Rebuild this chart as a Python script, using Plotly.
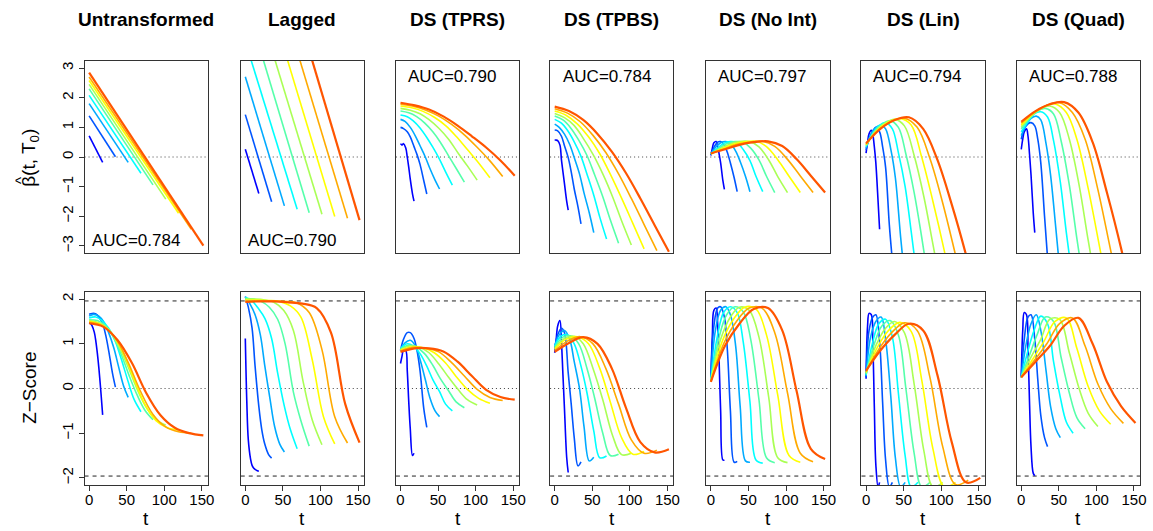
import plotly.graph_objects as go

# ---------------- data ----------------
T0 = [18, 35, 52, 69, 85, 102, 119, 136, 152]
t_grid = [
    [0, 2, 4, 7, 9, 11, 13, 16, 18],
    [0, 4, 9, 13, 18, 22, 26, 31, 35],
    [0, 6, 13, 20, 26, 33, 39, 46, 52],
    [0, 9, 17, 26, 35, 43, 52, 60, 69],
    [0, 11, 21, 32, 43, 53, 64, 74, 85],
    [0, 13, 26, 38, 51, 64, 77, 89, 102],
    [0, 15, 30, 45, 60, 74, 89, 104, 119],
    [0, 17, 34, 51, 68, 85, 102, 119, 136],
    [0, 19, 38, 57, 76, 95, 114, 133, 152],
]
TITLES = ["Untransformed", "Lagged", "DS (TPRS)", "DS (TPBS)", "DS (No Int)", "DS (Lin)", "DS (Quad)"]
AUC = ["0.784", "0.790", "0.790", "0.784", "0.797", "0.794", "0.788"]
X_TICKS = [0, 50, 100, 150]
BETA_TICKS = [-3, -2, -1, 0, 1, 2, 3]
Z_TICKS = [-2, -1, 0, 1, 2]
COLORS = ["#0000FF", "#0055FF", "#00AAFF", "#00FFFF", "#55FFAA", "#AAFF55", "#FFFF00", "#FFAA00", "#FF5500"]

# straight-line panels: value at t=0 and at t=T0
untrans_start = [0.71, 1.39, 1.80, 2.08, 2.30, 2.45, 2.58, 2.70, 2.85]
untrans_end = [-0.18, 0.01, -0.18, -0.55, -0.94, -1.42, -1.90, -2.44, -2.99]
lagged_start = [0.26, 1.43, 2.71, 3.90, 5.30, 6.56, 7.99, 9.38, 10.87]
lagged_end = [-1.23, -1.51, -1.65, -1.76, -1.88, -1.93, -2.01, -2.07, -2.13]

tprs_beta = [
    [0.45, 0.40, 0.45, 0.30, 0.00, -0.35, -0.75, -1.25, -1.49],
    [1.00, 0.96, 0.85, 0.68, 0.35, 0.08, -0.25, -0.80, -1.25],
    [1.27, 1.20, 1.00, 0.70, 0.38, 0.00, -0.38, -0.78, -1.08],
    [1.42, 1.36, 1.22, 0.98, 0.66, 0.33, -0.08, -0.50, -0.95],
    [1.55, 1.49, 1.37, 1.15, 0.85, 0.50, 0.04, -0.38, -0.85],
    [1.64, 1.58, 1.46, 1.26, 0.97, 0.60, 0.12, -0.30, -0.78],
    [1.72, 1.66, 1.54, 1.34, 1.06, 0.70, 0.25, -0.20, -0.70],
    [1.78, 1.71, 1.58, 1.38, 1.10, 0.75, 0.33, -0.13, -0.66],
    [1.83, 1.74, 1.60, 1.37, 1.06, 0.70, 0.32, -0.12, -0.63],
]
tpbs_beta = [
    [0.57, 0.57, 0.55, 0.40, -0.10, -0.50, -0.90, -1.50, -1.79],
    [0.91, 0.88, 0.70, 0.38, -0.02, -0.50, -1.08, -1.68, -2.26],
    [1.11, 1.00, 0.77, 0.42, -0.02, -0.57, -1.21, -1.88, -2.55],
    [1.27, 1.14, 0.90, 0.51, 0.02, -0.58, -1.29, -2.03, -2.77],
    [1.38, 1.25, 0.99, 0.57, 0.05, -0.59, -1.34, -2.12, -2.91],
    [1.47, 1.33, 1.06, 0.63, 0.09, -0.57, -1.34, -2.15, -2.97],
    [1.55, 1.41, 1.12, 0.68, 0.11, -0.58, -1.39, -2.24, -3.10],
    [1.63, 1.48, 1.19, 0.73, 0.15, -0.57, -1.40, -2.28, -3.16],
    [1.70, 1.55, 1.25, 0.78, 0.18, -0.55, -1.40, -2.30, -3.20],
]
noint_beta = [
    [0.05, 0.30, 0.48, 0.52, 0.35, 0.10, -0.20, -0.80, -1.09],
    [0.08, 0.32, 0.50, 0.52, 0.40, 0.15, -0.20, -0.70, -1.17],
    [0.10, 0.32, 0.48, 0.52, 0.45, 0.20, -0.15, -0.65, -1.17],
    [0.10, 0.30, 0.46, 0.52, 0.48, 0.25, -0.12, -0.65, -1.17],
    [0.10, 0.30, 0.45, 0.52, 0.50, 0.30, -0.10, -0.65, -1.20],
    [0.10, 0.29, 0.44, 0.52, 0.52, 0.34, -0.10, -0.66, -1.20],
    [0.11, 0.28, 0.43, 0.51, 0.53, 0.35, -0.09, -0.65, -1.20],
    [0.12, 0.27, 0.42, 0.50, 0.53, 0.36, -0.08, -0.64, -1.20],
    [0.12, 0.26, 0.41, 0.50, 0.53, 0.37, -0.07, -0.63, -1.20],
]
lin_beta = [
    [0.13, 0.50, 0.78, 0.90, 0.75, 0.35, -0.20, -1.50, -2.44],
    [0.24, 0.60, 0.88, 1.00, 0.85, 0.35, -0.35, -2.30, -3.50],
    [0.30, 0.75, 1.00, 1.08, 0.95, 0.25, -0.70, -2.70, -4.20],
    [0.35, 0.80, 1.05, 1.16, 0.95, 0.15, -1.00, -2.50, -4.30],
    [0.38, 0.85, 1.10, 1.22, 1.00, 0.10, -1.20, -2.70, -4.50],
    [0.40, 0.88, 1.15, 1.27, 1.05, 0.05, -1.35, -2.95, -4.70],
    [0.42, 0.90, 1.18, 1.30, 1.08, 0.00, -1.50, -3.15, -5.00],
    [0.44, 0.92, 1.20, 1.31, 1.00, -0.05, -1.55, -3.30, -5.10],
    [0.46, 0.95, 1.25, 1.34, 0.95, -0.10, -1.60, -3.30, -5.20],
]
quad_beta = [
    [0.26, 0.60, 0.85, 0.95, 0.70, 0.10, -0.60, -1.90, -2.55],
    [0.60, 0.95, 1.12, 1.16, 1.05, 0.60, -0.20, -2.00, -3.40],
    [0.72, 1.05, 1.30, 1.38, 1.25, 0.45, -0.60, -2.40, -4.00],
    [0.85, 1.20, 1.45, 1.53, 1.35, 0.55, -0.85, -2.55, -4.30],
    [0.95, 1.30, 1.55, 1.64, 1.45, 0.55, -0.95, -2.75, -4.60],
    [1.02, 1.38, 1.62, 1.72, 1.50, 0.60, -0.95, -2.80, -4.70],
    [1.08, 1.45, 1.70, 1.79, 1.50, 0.60, -1.05, -3.00, -5.00],
    [1.14, 1.50, 1.75, 1.83, 1.50, 0.60, -1.10, -3.15, -5.20],
    [1.19, 1.55, 1.78, 1.85, 1.50, 0.50, -1.20, -3.10, -5.30],
]

untrans_z = [
    [1.47, 1.45, 1.40, 1.25, 1.05, 0.78, 0.45, -0.15, -0.59],
    [1.66, 1.68, 1.67, 1.60, 1.45, 1.20, 0.85, 0.35, 0.03],
    [1.62, 1.66, 1.62, 1.48, 1.25, 0.90, 0.50, 0.05, -0.20],
    [1.58, 1.60, 1.52, 1.35, 1.05, 0.65, 0.15, -0.25, -0.52],
    [1.54, 1.52, 1.42, 1.16, 0.75, 0.30, -0.15, -0.48, -0.70],
    [1.52, 1.47, 1.32, 1.00, 0.52, -0.02, -0.45, -0.70, -0.82],
    [1.50, 1.44, 1.24, 0.82, 0.20, -0.35, -0.72, -0.88, -0.93],
    [1.48, 1.41, 1.15, 0.62, -0.05, -0.58, -0.86, -0.97, -1.00],
    [1.46, 1.38, 1.08, 0.57, -0.10, -0.60, -0.88, -1.00, -1.05],
]
lagged_z = [
    [1.12, -0.30, -1.15, -1.58, -1.72, -1.78, -1.81, -1.84, -1.85],
    [2.06, 1.82, 1.35, 0.50, -0.40, -0.93, -1.25, -1.48, -1.56],
    [2.05, 1.90, 1.65, 1.20, 0.50, -0.25, -0.85, -1.25, -1.42],
    [2.04, 1.96, 1.80, 1.57, 1.12, 0.35, -0.40, -0.92, -1.35],
    [2.02, 2.00, 1.95, 1.82, 1.55, 1.00, -0.08, -0.72, -1.29],
    [2.00, 2.00, 1.98, 1.93, 1.75, 1.30, 0.15, -0.70, -1.26],
    [1.98, 1.98, 1.97, 1.95, 1.85, 1.60, 0.65, -0.63, -1.24],
    [1.95, 1.96, 1.96, 1.95, 1.92, 1.70, 0.87, -0.63, -1.22],
    [1.94, 1.95, 1.95, 1.93, 1.90, 1.80, 1.25, -0.35, -1.21],
]
tprs_z = [
    [0.56, 0.72, 0.86, 0.85, 0.40, -0.30, -0.90, -1.50, -1.45],
    [0.85, 1.10, 1.25, 1.25, 1.12, 0.85, 0.40, -0.45, -0.87],
    [0.85, 1.02, 1.08, 0.95, 0.65, 0.20, -0.20, -0.50, -0.63],
    [0.90, 1.00, 0.95, 0.78, 0.50, 0.20, -0.07, -0.35, -0.50],
    [0.88, 0.97, 0.93, 0.78, 0.52, 0.22, -0.05, -0.30, -0.43],
    [0.87, 0.95, 0.92, 0.80, 0.55, 0.25, -0.03, -0.25, -0.37],
    [0.86, 0.93, 0.91, 0.80, 0.57, 0.27, -0.02, -0.22, -0.33],
    [0.84, 0.92, 0.90, 0.82, 0.58, 0.28, -0.02, -0.20, -0.27],
    [0.82, 0.90, 0.90, 0.83, 0.60, 0.28, -0.03, -0.19, -0.25],
]
tpbs_z = [
    [0.80, 1.10, 1.40, 1.52, 1.05, 0.30, -0.45, -1.55, -1.88],
    [0.90, 1.20, 1.35, 1.25, 0.35, -0.35, -1.10, -1.73, -1.64],
    [0.95, 1.20, 1.30, 1.10, 0.60, 0.00, -0.85, -1.62, -1.54],
    [0.95, 1.18, 1.20, 1.00, 0.50, -0.10, -0.95, -1.55, -1.51],
    [0.92, 1.15, 1.18, 1.00, 0.45, -0.20, -1.00, -1.50, -1.47],
    [0.90, 1.12, 1.17, 1.00, 0.45, -0.25, -1.05, -1.48, -1.45],
    [0.88, 1.10, 1.16, 1.00, 0.45, -0.30, -1.10, -1.47, -1.41],
    [0.85, 1.06, 1.16, 1.00, 0.45, -0.35, -1.15, -1.45, -1.38],
    [0.82, 1.02, 1.15, 1.00, 0.45, -0.44, -1.20, -1.43, -1.36],
]
noint_z = [
    [0.20, 1.20, 1.75, 1.80, 1.45, 0.60, -0.50, -1.60, -1.60],
    [0.22, 1.40, 1.80, 1.83, 1.60, 0.85, -0.50, -1.65, -1.63],
    [0.20, 1.30, 1.75, 1.83, 1.65, 0.95, -0.40, -1.62, -1.65],
    [0.20, 1.20, 1.70, 1.83, 1.70, 1.05, -0.30, -1.60, -1.67],
    [0.18, 1.15, 1.65, 1.83, 1.72, 1.10, -0.25, -1.55, -1.66],
    [0.17, 1.10, 1.60, 1.82, 1.75, 1.15, -0.20, -1.55, -1.66],
    [0.16, 1.05, 1.55, 1.82, 1.78, 1.20, -0.15, -1.50, -1.65],
    [0.15, 1.00, 1.50, 1.80, 1.80, 1.25, -0.10, -1.45, -1.64],
    [0.15, 0.96, 1.45, 1.78, 1.80, 1.30, -0.05, -1.35, -1.58],
]
lin_z = [
    [0.22, 1.40, 1.68, 1.65, 1.00, -0.40, -1.70, -2.20, -2.10],
    [0.25, 1.30, 1.60, 1.65, 1.05, -0.30, -1.60, -2.20, -2.10],
    [0.28, 1.15, 1.50, 1.60, 1.10, -0.20, -1.55, -2.20, -2.10],
    [0.30, 1.05, 1.45, 1.55, 1.15, -0.10, -1.50, -2.20, -2.10],
    [0.32, 1.00, 1.40, 1.52, 1.20, 0.00, -1.45, -2.20, -2.10],
    [0.34, 0.96, 1.35, 1.50, 1.25, 0.10, -1.40, -2.20, -2.10],
    [0.36, 0.92, 1.30, 1.48, 1.28, 0.20, -1.35, -2.20, -2.10],
    [0.38, 0.88, 1.25, 1.47, 1.30, 0.25, -1.30, -2.15, -2.05],
    [0.40, 0.85, 1.20, 1.45, 1.30, 0.30, -1.20, -2.10, -2.00],
]
quad_z = [
    [0.25, 1.30, 1.70, 1.65, 0.90, -0.30, -1.30, -1.90, -1.95],
    [0.25, 1.10, 1.60, 1.65, 1.10, 0.20, -0.60, -1.10, -1.30],
    [0.25, 0.95, 1.45, 1.65, 1.30, 0.40, -0.40, -0.90, -1.10],
    [0.25, 0.85, 1.30, 1.62, 1.45, 0.60, -0.20, -0.75, -1.00],
    [0.25, 0.75, 1.20, 1.60, 1.50, 0.70, -0.10, -0.65, -0.90],
    [0.25, 0.70, 1.10, 1.55, 1.55, 0.80, 0.00, -0.55, -0.85],
    [0.25, 0.65, 1.05, 1.50, 1.58, 0.90, 0.05, -0.50, -0.80],
    [0.25, 0.62, 1.00, 1.45, 1.58, 0.95, 0.10, -0.45, -0.78],
    [0.25, 0.60, 0.95, 1.40, 1.58, 1.00, 0.15, -0.40, -0.77],
]

TOP_CURVES = [None, None, tprs_beta, tpbs_beta, noint_beta, lin_beta, quad_beta]
BOT_CURVES = [untrans_z, lagged_z, tprs_z, tpbs_z, noint_z, lin_z, quad_z]

# ---------------- layout ----------------
W, H = 1153, 531
LEFTS = [85, 242, 398, 553, 710, 866, 1022]
PW = 124
ROWS = [(61, 253), (292, 485)]
FONT = "Liberation Sans, Arial, Helvetica, sans-serif"
XR = [-6.08, 158.08]
YR = [[-3.24, 3.24], [-2.16, 2.16]]

fig = go.Figure()
layout = dict(width=W, height=H, margin=dict(l=0, r=0, t=0, b=0),
              paper_bgcolor="white", plot_bgcolor="white", showlegend=False,
              font=dict(family=FONT, color="black"))
annotations = []
shapes = []


def px_dom_x(a, b):
    return [a / W, b / W]


def px_dom_y(top, bot):
    return [(H - bot) / H, (H - top) / H]


def py(v):
    return (H - v) / H


for r in range(2):
    for c in range(7):
        n = r * 7 + c + 1
        xa = "xaxis" if n == 1 else f"xaxis{n}"
        ya = "yaxis" if n == 1 else f"yaxis{n}"
        xr = "x" if n == 1 else f"x{n}"
        yr = "y" if n == 1 else f"y{n}"
        layout[xa] = dict(domain=px_dom_x(LEFTS[c], LEFTS[c] + PW), range=XR, anchor=yr,
                          showline=True, mirror=True, linecolor="#333", linewidth=1,
                          showgrid=False, zeroline=False, fixedrange=True,
                          tickvals=X_TICKS if r == 1 else [],
                          ticks="outside" if r == 1 else "", ticklen=5, tickcolor="#333",
                          tickfont=dict(size=15, family=FONT), ticklabelstandoff=-4,
                          showticklabels=(r == 1))
        is_left = (c == 0)
        layout[ya] = dict(domain=px_dom_y(*ROWS[r]), range=YR[r], anchor=xr,
                          showline=True, mirror=True, linecolor="#333", linewidth=1,
                          showgrid=False, zeroline=False, fixedrange=True,
                          tickvals=(BETA_TICKS if r == 0 else Z_TICKS) if is_left else [],
                          ticks="outside" if is_left else "", ticklen=5, tickcolor="#333",
                          tickangle=-90, tickfont=dict(size=15, family=FONT),
                          showticklabels=is_left)
        # reference lines
        shapes.append(dict(type="line", xref=f"{xr} domain", yref=yr, x0=0, x1=1, y0=0, y1=0,
                           line=dict(color="#444", width=1, dash="1px,3px"), layer="below"))
        if r == 1:
            for h in (1.96, -1.96):
                shapes.append(dict(type="line", xref=f"{xr} domain", yref=yr, x0=0, x1=1, y0=h, y1=h,
                                   line=dict(color="#222", width=1, dash="4px,4px"), layer="below"))
        # curves
        for k in range(9):
            if r == 0 and c == 0:
                xs, ys = [0, T0[k]], [untrans_start[k], untrans_end[k]]
            elif r == 0 and c == 1:
                xs, ys = [0, T0[k]], [lagged_start[k], lagged_end[k]]
            elif r == 0:
                xs, ys = t_grid[k], TOP_CURVES[c][k]
            else:
                xs, ys = t_grid[k], BOT_CURVES[c][k]
            fig.add_trace(go.Scatter(x=xs, y=ys, mode="lines", xaxis=xr, yaxis=yr,
                                     line=dict(color=COLORS[k], width=2.2 if k == 8 else 1.6,
                                               shape="spline", smoothing=1.0),
                                     hoverinfo="skip"))
        if r == 1:
            annotations.append(dict(text="t", xref="paper", yref="paper",
                                    x=(LEFTS[c] + PW / 2) / W, y=py(518),
                                    showarrow=False, font=dict(size=19, family=FONT),
                                    xanchor="center", yanchor="middle"))

for c in range(7):
    cx = (LEFTS[c] + PW / 2) / W
    annotations.append(dict(text=f"<b>{TITLES[c]}</b>", xref="paper", yref="paper",
                            x=cx, y=py(20), showarrow=False,
                            font=dict(size=19, family=FONT), xanchor="center", yanchor="middle"))
    ay = 240 if c < 2 else 77
    acx = [137, 294, 454, 610, 766, 922, 1079][c]
    annotations.append(dict(text=f"AUC={AUC[c]}", xref="paper", yref="paper",
                            x=acx / W, y=py(ay), showarrow=False,
                            font=dict(size=17, family=FONT), xanchor="center", yanchor="middle"))

annotations.append(dict(text="β(t, T<sub>0</sub>)", xref="paper", yref="paper",
                        x=30 / W, y=py(158), showarrow=False, textangle=-90,
                        font=dict(size=19, family=FONT), xanchor="center", yanchor="middle"))
annotations.append(dict(text="^", xref="paper", yref="paper",
                        x=20 / W, y=py(180), showarrow=False, textangle=-90,
                        font=dict(size=15, family=FONT), xanchor="center", yanchor="middle"))
annotations.append(dict(text="Z\u2212Score", xref="paper", yref="paper",
                        x=29 / W, y=py(388), showarrow=False, textangle=-90,
                        font=dict(size=19, family=FONT), xanchor="center", yanchor="middle"))

layout["annotations"] = annotations
layout["shapes"] = shapes
fig.update_layout(**layout)
fig.write_html("out.html", config={"displayModeBar": False},
               post_script="document.body.style.margin='0';document.body.style.overflow='hidden';")
